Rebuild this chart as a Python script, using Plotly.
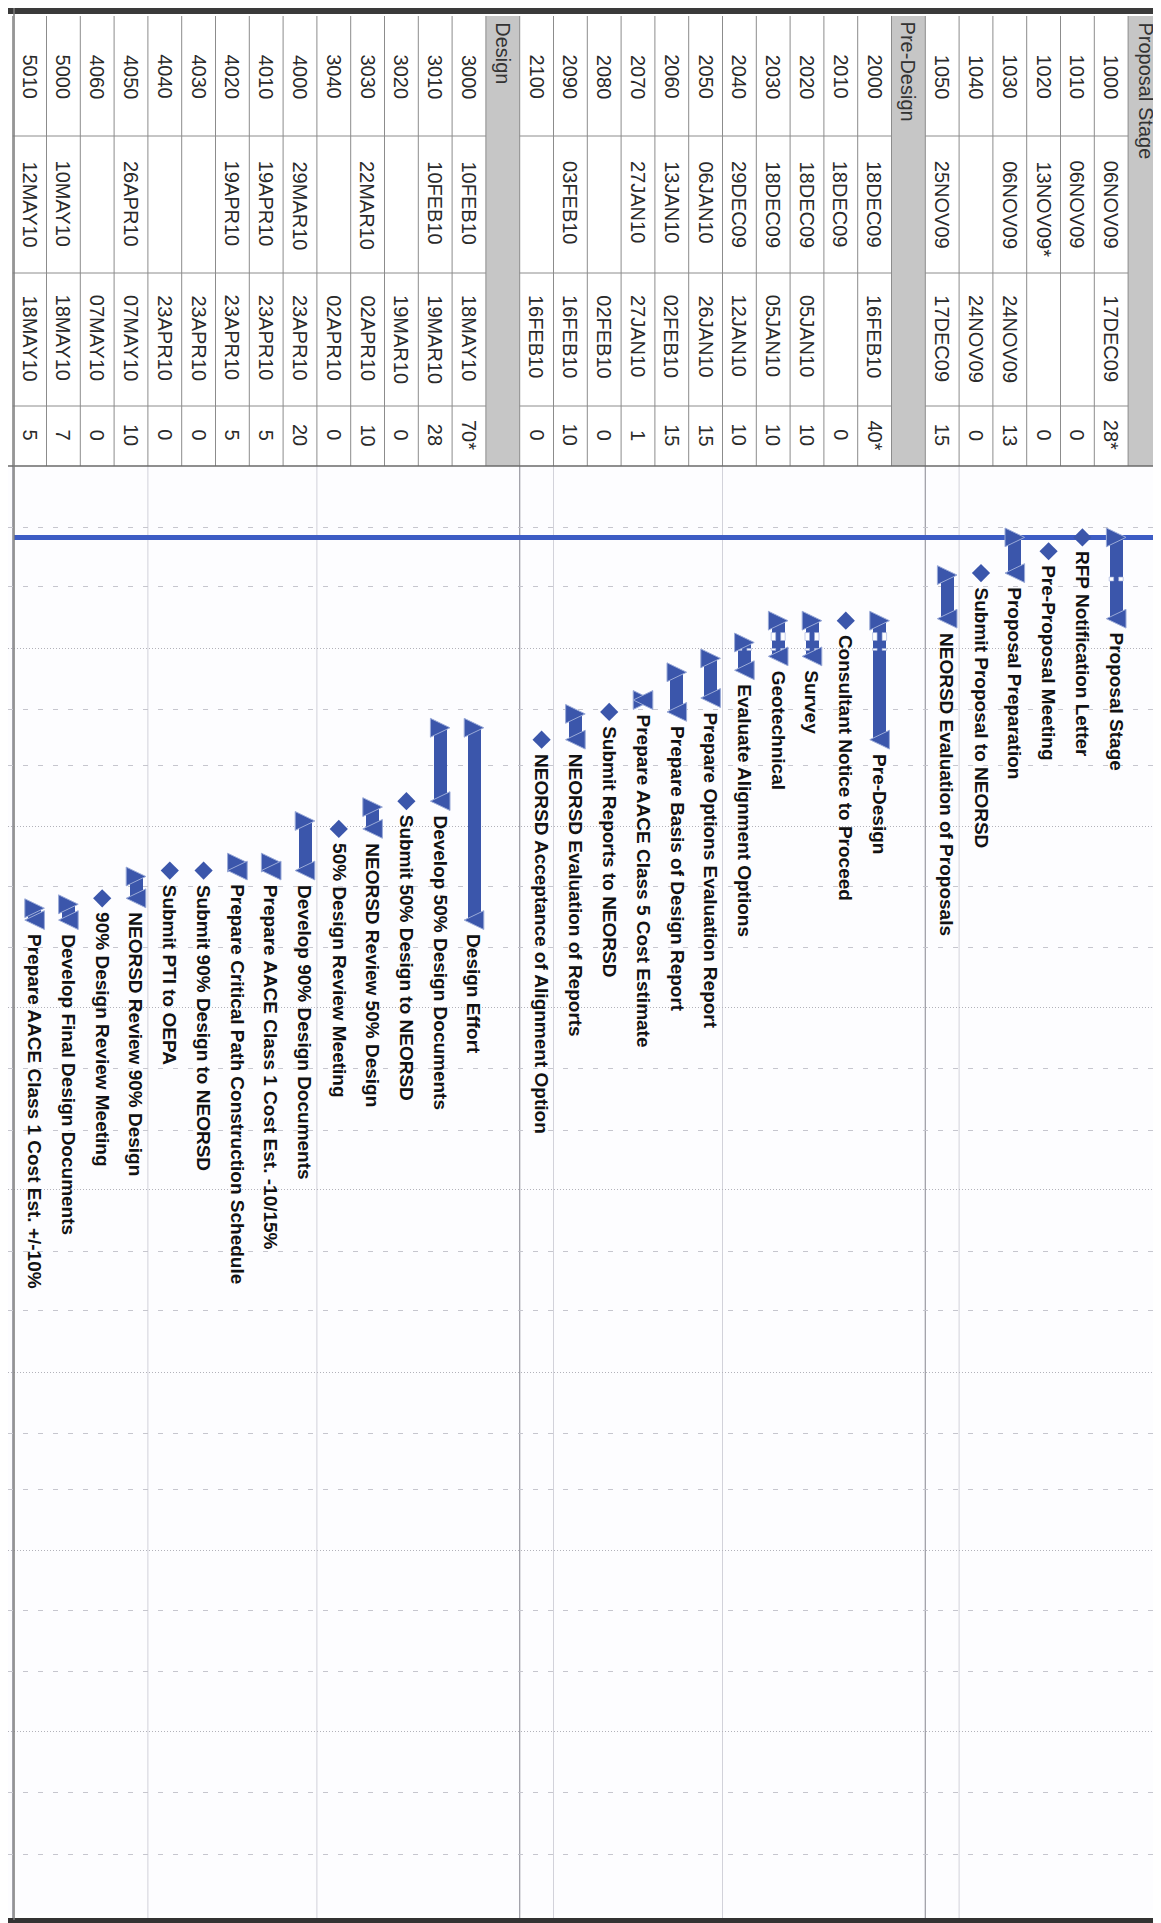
import plotly.graph_objects as go
import pandas as pd

W, H = 1161, 1923

# ---------------- data ----------------
group_names = ["Proposal Stage", "Pre-Design", "Design"]
group_sizes = [6, 11, 14]

activity_ids = ["1000", "1010", "1020", "1030", "1040", "1050",
                "2000", "2010", "2020", "2030", "2040", "2050", "2060", "2070", "2080", "2090", "2100",
                "3000", "3010", "3020", "3030", "3040", "4000", "4010", "4020", "4030", "4040", "4050",
                "4060", "5000", "5010"]

activity_names = ["Proposal Stage", "RFP Notification Letter", "Pre-Proposal Meeting",
                  "Proposal Preparation", "Submit Proposal to NEORSD", "NEORSD Evaluation of Proposals",
                  "Pre-Design", "Consultant Notice to Proceed", "Survey", "Geotechnical",
                  "Evaluate Alignment Options", "Prepare Options Evaluation Report",
                  "Prepare Basis of Design Report", "Prepare AACE Class 5 Cost Estimate",
                  "Submit Reports to NEORSD", "NEORSD Evaluation of Reports",
                  "NEORSD Acceptance of Alignment Option",
                  "Design Effort", "Develop 50% Design Documents", "Submit 50% Design to NEORSD",
                  "NEORSD Review 50% Design", "50% Design Review Meeting",
                  "Develop 90% Design Documents", "Prepare AACE Class 1 Cost Est. -10/15%",
                  "Prepare Critical Path Construction Schedule", "Submit 90% Design to NEORSD",
                  "Submit PTI to OEPA", "NEORSD Review 90% Design", "90% Design Review Meeting",
                  "Develop Final Design Documents", "Prepare AACE Class 1 Cost Est. +/-10%"]

early_start = ["06NOV09", "06NOV09", "13NOV09*", "06NOV09", "", "25NOV09",
               "18DEC09", "18DEC09", "18DEC09", "18DEC09", "29DEC09", "06JAN10", "13JAN10", "27JAN10",
               "", "03FEB10", "",
               "10FEB10", "10FEB10", "", "22MAR10", "", "29MAR10", "19APR10", "19APR10", "", "",
               "26APR10", "", "10MAY10", "12MAY10"]

early_finish = ["17DEC09", "", "", "24NOV09", "24NOV09", "17DEC09",
                "16FEB10", "", "05JAN10", "05JAN10", "12JAN10", "26JAN10", "02FEB10", "27JAN10",
                "02FEB10", "16FEB10", "16FEB10",
                "18MAY10", "19MAR10", "19MAR10", "02APR10", "02APR10", "23APR10", "23APR10",
                "23APR10", "23APR10", "23APR10", "07MAY10", "07MAY10", "18MAY10", "18MAY10"]

durations = ["28*", "0", "0", "13", "0", "15",
             "40*", "0", "10", "10", "10", "15", "15", "1", "0", "10", "0",
             "70*", "28", "0", "10", "0", "20", "5", "5", "0", "0", "10", "0", "7", "5"]

holiday_start = ["26NOV09", "24DEC09", "01JAN10"]
holiday_end = ["28NOV09", "28DEC09", "02JAN10"]

data_date = "2009-11-06"
timescale_start = "2009-10-01"
timescale_end = "2011-10-01"

# ---------------- layout constants ----------------
ROW_PX = 33.8
X0_PX = 1137.0
BLUE = "#3b56ab"
EDGE = "#9aaad8"
FONT = "Liberation Sans, Arial, Helvetica, sans-serif"


def px_to_slot(p):
    return (X0_PX - p) / ROW_PX


def py(p):
    return 1 - p / H


def parse(d):
    if not d:
        return None
    return pd.to_datetime(d.rstrip("*"), format="%d%b%y")


def ds(t):
    return t.strftime("%Y-%m-%d")


slots, header_slots = [], []
s = 0
for g, n in enumerate(group_sizes):
    header_slots.append(s)
    s += 1
    for _ in range(n):
        slots.append(s)
        s += 1

BAR_OFF = 5 / ROW_PX
TRI_W, TRI_H = 9.8, 9.4
BODY_HALF = 6.5

fig = go.Figure()
shapes = []
annotations = []

bar_x, bar_base, bar_len = [], [], []
ms_x, ms_y = [], []
hol = [(parse(a), parse(b)) for a, b in zip(holiday_start, holiday_end)]

for i, name in enumerate(activity_names):
    st, fn = parse(early_start[i]), parse(early_finish[i])
    dur = int(durations[i].rstrip("*"))
    x = slots[i] - BAR_OFF
    if dur == 0:
        d = st if st is not None else fn
        ms_x.append(x)
        ms_y.append(ds(d))
        lab_date, shift = d, 12
    else:
        bar_x.append(x)
        bar_base.append(ds(st))
        bar_len.append((fn - st).total_seconds() * 1000)
        # non-work (holiday) notches inside the bar
        for h0, h1 in hol:
            if st + pd.Timedelta(days=1) < h0 and h1 < fn - pd.Timedelta(days=1):
                for sx0, sx1 in [(-BODY_HALF - 0.5, -2.5), (2.5, BODY_HALF + 0.5)]:
                    shapes.append(dict(type="rect", xref="x", yref="y", xsizemode="pixel",
                                       xanchor=x, x0=sx0, x1=sx1, y0=ds(h0), y1=ds(h1),
                                       fillcolor="#fdfdff", line=dict(color=EDGE, width=0.6),
                                       layer="above"))
        shapes.append(dict(type="path", xref="x", yref="y", xsizemode="pixel", ysizemode="pixel",
                           xanchor=x, yanchor=ds(st),
                           path=f"M {-TRI_W},{-TRI_H} L {TRI_W},0 L {-TRI_W},{TRI_H} Z",
                           fillcolor=BLUE, line=dict(color=EDGE, width=1), layer="above"))
        shapes.append(dict(type="path", xref="x", yref="y", xsizemode="pixel", ysizemode="pixel",
                           xanchor=x, yanchor=ds(fn),
                           path=f"M {TRI_W},{-TRI_H} L {-TRI_W},0 L {TRI_W},{TRI_H} Z",
                           fillcolor=BLUE, line=dict(color=EDGE, width=1), layer="above"))
        lab_date, shift = fn, 12
    annotations.append(dict(x=x, y=ds(lab_date), xref="x", yref="y", text=name, textangle=90,
                            showarrow=False, xanchor="center", yanchor="top", yshift=-shift,
                            font=dict(family=FONT, size=19, color="#121212", weight="bold")))

fig.add_trace(go.Bar(x=bar_x, base=bar_base, y=bar_len, width=2 * BODY_HALF / ROW_PX,
                     marker=dict(color=BLUE, line=dict(width=0)), hoverinfo="skip"))
fig.add_trace(go.Scatter(x=ms_x, y=ms_y, mode="markers",
                         marker=dict(symbol="diamond", size=14, color=BLUE, line=dict(width=0)),
                         hoverinfo="skip"))

# ---------------- activity table ----------------
TBL_TOP, TBL_BOT = 8, 458
COL_LINES = [128, 265, 398]

for g, hs in enumerate(header_slots):
    shapes.append(dict(type="rect", xref="x", yref="paper", x0=hs - 0.5, x1=hs + 0.5,
                       y0=py(TBL_TOP), y1=py(TBL_BOT), fillcolor="#c6c6c6",
                       line=dict(width=0), layer="below"))
    annotations.append(dict(x=hs, y=py(12), xref="x", yref="paper", text=group_names[g],
                            textangle=90, showarrow=False, xanchor="center", yanchor="top",
                            font=dict(family=FONT, size=20, color="#333333")))

for k in range(len(slots) + len(header_slots) + 1):
    b = k - 0.5
    shapes.append(dict(type="line", xref="x", yref="paper", x0=b, x1=b,
                       y0=py(TBL_TOP), y1=py(TBL_BOT), line=dict(color="#8c8c8c", width=1),
                       layer="below"))

start_i = 0
for g, n in enumerate(group_sizes):
    first, last = slots[start_i], slots[start_i + n - 1]
    for c in COL_LINES:
        shapes.append(dict(type="line", xref="x", yref="paper", x0=first - 0.5, x1=last + 0.5,
                           y0=py(c), y1=py(c), line=dict(color="#8c8c8c", width=1), layer="below"))
    start_i += n

shapes.append(dict(type="line", xref="paper", yref="paper", x0=0, x1=1, y0=py(TBL_BOT),
                   y1=py(TBL_BOT), line=dict(color="#6a6a6a", width=1.5), layer="above"))

tfont = dict(family=FONT, size=20, color="#2a2a2a")
for i in range(len(activity_ids)):
    x = slots[i]
    annotations.append(dict(x=x, y=py(69), xref="x", yref="paper", text=activity_ids[i],
                            textangle=90, showarrow=False, xanchor="center", yanchor="middle",
                            font=tfont))
    if early_start[i]:
        annotations.append(dict(x=x, y=py(151), xref="x", yref="paper", text=early_start[i],
                                textangle=90, showarrow=False, xanchor="center", yanchor="top",
                                font=tfont))
    if early_finish[i]:
        annotations.append(dict(x=x, y=py(285), xref="x", yref="paper", text=early_finish[i],
                                textangle=90, showarrow=False, xanchor="center", yanchor="top",
                                font=tfont))
    annotations.append(dict(x=x, y=py(427), xref="x", yref="paper", text=durations[i],
                            textangle=90, showarrow=False, xanchor="center", yanchor="middle",
                            font=tfont))

# ---------------- gantt row grouping lines ----------------
start_i = 0
for g, n in enumerate(group_sizes):
    for j in range(5, n, 5):
        b = slots[start_i + j - 1] + 0.5
        shapes.append(dict(type="line", xref="x", yref="paper", x0=b, x1=b,
                           y0=py(TBL_BOT), y1=py(1911), line=dict(color="#d2d2da", width=1),
                           layer="below"))
    b = slots[start_i + n - 1] + 0.5
    shapes.append(dict(type="line", xref="x", yref="paper", x0=b, x1=b,
                       y0=py(TBL_BOT), y1=py(1911), line=dict(color="#9a9aa2", width=1.2),
                       layer="below"))
    start_i += n

# data date line
shapes.append(dict(type="line", xref="x", yref="y", x0=px_to_slot(6), x1=px_to_slot(1152),
                   y0=data_date, y1=data_date, line=dict(color="#3d5cc4", width=5), layer="below"))

# ---------------- page frame (scan edges, ruler strip) ----------------
shapes.append(dict(type="rect", xref="paper", yref="paper", x0=0, x1=1152 / W, y0=py(0), y1=py(6),
                   fillcolor="#3a3a3a", line=dict(width=0), layer="above"))
shapes.append(dict(type="rect", xref="paper", yref="paper", x0=0, x1=1152 / W, y0=py(1910),
                   y1=py(1917), fillcolor="#333333", line=dict(width=0), layer="above"))
shapes.append(dict(type="rect", xref="paper", yref="paper", x0=0, x1=1152 / W, y0=py(1917),
                   y1=py(H), fillcolor="#dcdcdc", line=dict(width=0), layer="above"))
shapes.append(dict(type="line", xref="paper", yref="paper", x0=6 / W, x1=6 / W, y0=py(0),
                   y1=py(1912), line=dict(color="#7a7a7a", width=1.5), layer="above"))
shapes.append(dict(type="rect", xref="paper", yref="paper", x0=1152 / W, x1=1, y0=0, y1=1,
                   fillcolor="#f5ea3a", line=dict(width=0), layer="above"))
shapes.append(dict(type="line", xref="paper", yref="paper", x0=1152 / W, x1=1152 / W, y0=0, y1=1,
                   line=dict(color="#555555", width=1.5), layer="above"))
k = 0
while 6 + k * 11.85 < H:
    yy = py(6 + k * 11.85)
    shapes.append(dict(type="line", xref="paper", yref="paper", x0=1153 / W, x1=1, y0=yy, y1=yy,
                       line=dict(color="#3a3a3a", width=1), layer="above"))
    k += 1

fig.update_layout(
    width=W, height=H,
    margin=dict(l=0, r=0, t=0, b=0, pad=0),
    paper_bgcolor="white", plot_bgcolor="#fdfdff",
    showlegend=False, bargap=0,
    font=dict(family=FONT),
    xaxis=dict(range=[px_to_slot(0), px_to_slot(W)], showgrid=False, zeroline=False,
               showticklabels=False, ticks="", showline=False, fixedrange=True),
    yaxis=dict(type="date", domain=[py(1905.6), py(TBL_BOT)],
               range=[timescale_end, timescale_start],
               showticklabels=False, ticks="", zeroline=False, showline=False,
               showgrid=True, gridcolor="#b2b2ba", griddash="1px,2px", gridwidth=1,
               tick0=timescale_start, dtick="M3",
               minor=dict(showgrid=True, tick0=timescale_start, dtick="M1",
                          gridcolor="#c6c6ce", griddash="5px,10px", gridwidth=1),
               fixedrange=True),
    shapes=shapes,
    annotations=annotations,
)

fig.write_html("out.html")
